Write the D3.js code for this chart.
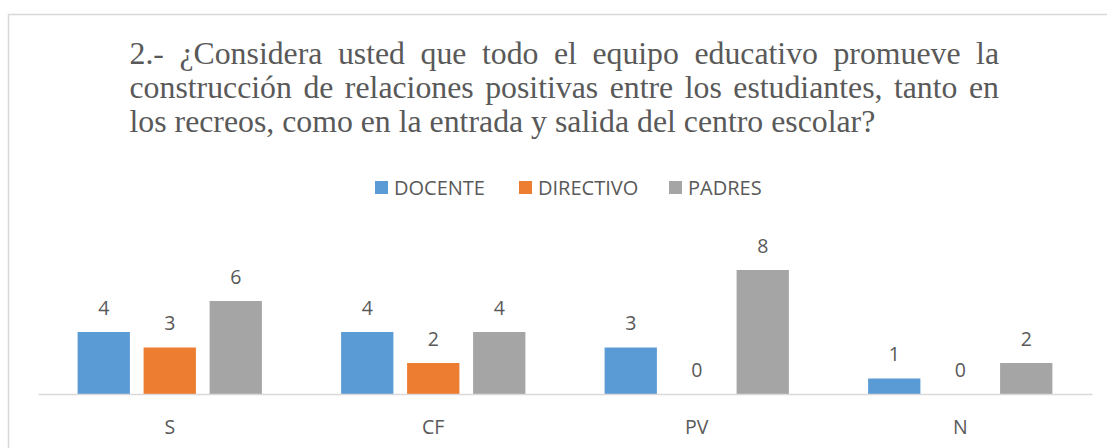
<!DOCTYPE html>
<html>
<head>
<meta charset="utf-8">
<script src="https://cdn.jsdelivr.net/npm/d3@7"></script>
<style>
  html, body { margin: 0; padding: 0; background: #ffffff; }
  svg { display: block; }
</style>
</head>
<body>
<script>
const titleLines = [
  "2.- ¿Considera usted que todo el equipo educativo promueve la",
  "construcción de relaciones positivas entre los estudiantes, tanto en",
  "los recreos, como en la entrada y salida del centro escolar?"
];
const categories = ["S", "CF", "PV", "N"];
const seriesNames = ["DOCENTE", "DIRECTIVO", "PADRES"];
const docente = [4, 4, 3, 1];
const directivo = [3, 2, 0, 0];
const padres = [6, 4, 8, 2];
const seriesColors = ["#5b9bd5", "#ed7d31", "#a5a5a5"];

const W = 1107, H = 448;
const textColor = "#595959";
const sansFont = "'Open Sans', 'Noto Sans', sans-serif";

const svg = d3.select("body").append("svg")
  .attr("width", W).attr("height", H);

svg.append("rect").attr("x", 0).attr("y", 0).attr("width", W).attr("height", H).attr("fill", "#fff");

// chart border (extends beyond the visible window on right and bottom)
svg.append("rect")
  .attr("x", 8.5).attr("y", 14.5)
  .attr("width", W + 20).attr("height", H + 20)
  .attr("fill", "none").attr("stroke", "#d9d9d9").attr("stroke-width", 1.5);

// ---- Title (justified) ----
const titleLeft = 129.5, titleRight = 999;
const titleBaselines = [63.5, 98, 132];
const lastLineWidth = 746;
const titleG = svg.append("g")
  .attr("font-family", "'Liberation Serif', 'Times New Roman', serif")
  .attr("font-size", 28)
  .attr("fill", textColor);
// fit font size so the (unjustified) last line has the reference's width
{
  const probe = titleG.append("text").text(titleLines[titleLines.length - 1]);
  const w = probe.node().getComputedTextLength();
  probe.remove();
  titleG.attr("font-size", 28 * lastLineWidth / w);
}

titleLines.forEach((line, li) => {
  const words = line.split(" ");
  const nodes = words.map(w => titleG.append("text").attr("y", titleBaselines[li]).text(w));
  const widths = nodes.map(n => n.node().getComputedTextLength());
  const total = d3.sum(widths);
  const isLast = li === titleLines.length - 1;
  let gap;
  if (isLast) {
    const sp = titleG.append("text").text("a a");
    const sp2 = titleG.append("text").text("aa");
    gap = sp.node().getComputedTextLength() - sp2.node().getComputedTextLength();
    sp.remove(); sp2.remove();
  } else {
    gap = (titleRight - titleLeft - total) / (words.length - 1);
  }
  let x = titleLeft;
  nodes.forEach((n, i) => { n.attr("x", x); x += widths[i] + gap; });
});

// ---- Legend ----
const legendItemsX = [375, 519, 669];
const legendG = svg.append("g").attr("font-family", sansFont).attr("font-size", 20).attr("fill", textColor);
seriesNames.forEach((s, i) => {
  legendG.append("rect")
    .attr("x", legendItemsX[i]).attr("y", 181)
    .attr("width", 13).attr("height", 13)
    .attr("fill", seriesColors[i]);
  legendG.append("text")
    .attr("x", legendItemsX[i] + 19).attr("y", 194.5)
    .text(s);
});

// ---- Plot ----
const plotLeft = 38, plotRight = 1092, baseY = 394;
const x0 = d3.scaleBand().domain(categories).range([plotLeft, plotRight]).paddingInner(0).paddingOuter(0);
const x1 = d3.scaleBand().domain(seriesNames).range([0, x0.bandwidth()]).paddingInner(0.2076).paddingOuter(0.6);
const y = d3.scaleLinear().domain([0, 10]).range([baseY, baseY - 155]);

const seriesData = [docente, directivo, padres];
const rows = [];
categories.forEach((c, ci) => {
  seriesNames.forEach((s, si) => {
    rows.push({ cat: c, series: s, value: seriesData[si][ci], color: seriesColors[si] });
  });
});

const barsG = svg.append("g");
barsG.selectAll("rect").data(rows).join("rect")
  .attr("x", d => x0(d.cat) + x1(d.series))
  .attr("y", d => y(d.value))
  .attr("width", x1.bandwidth())
  .attr("height", d => y(0) - y(d.value))
  .attr("fill", d => d.color);

// axis line
const xAxis = d3.axisBottom(x0).tickSize(0).tickPadding(0).tickSizeOuter(0);
const axisG = svg.append("g").attr("transform", `translate(0,${baseY})`).call(xAxis);
axisG.select(".domain").attr("stroke", "#d9d9d9").attr("stroke-width", 1.5);
axisG.selectAll(".tick text")
  .attr("font-family", sansFont)
  .attr("font-size", 19.5)
  .attr("fill", textColor)
  .attr("dy", null)
  .attr("y", 39.5);

// data labels
svg.append("g").attr("font-family", sansFont).attr("font-size", 19.5).attr("fill", textColor)
  .attr("text-anchor", "middle")
  .selectAll("text").data(rows).join("text")
  .attr("x", d => x0(d.cat) + x1(d.series) + x1.bandwidth() / 2)
  .attr("y", d => y(d.value) - 17.5)
  .text(d => d.value);
</script>
</body>
</html>
